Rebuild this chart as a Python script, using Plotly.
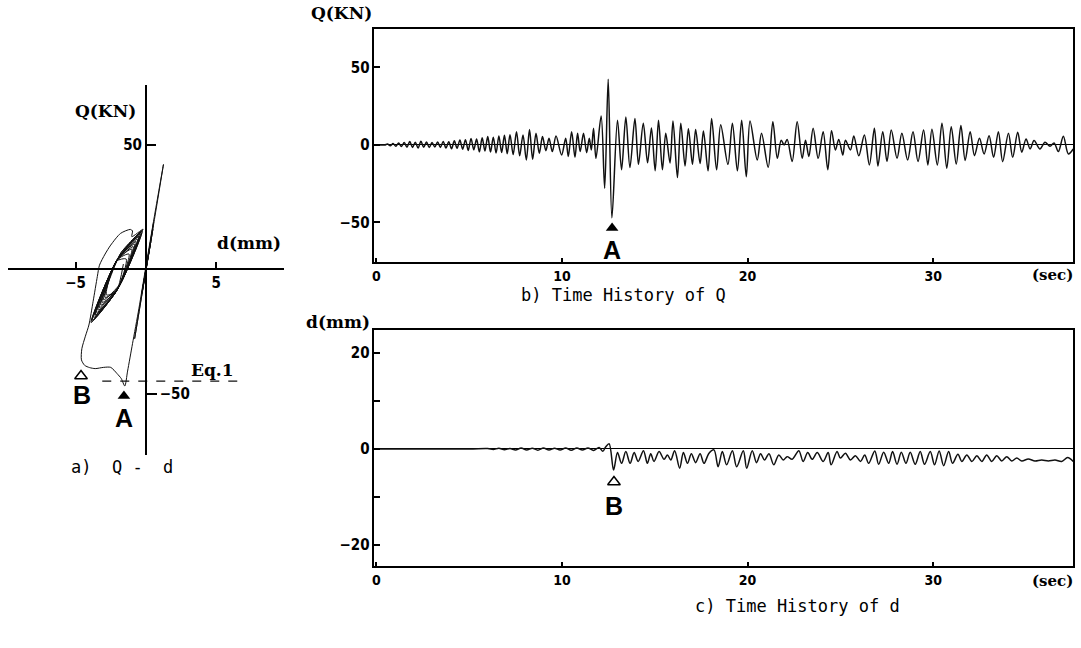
import plotly.graph_objects as go

# ---------------- Panel a : Q - d hysteresis (d [mm], Q [kN]) ----------------
loop_d = [0.0, 0.25, -0.2, 0.35, -0.3, 0.5, -0.25, 0.55, -0.8, 1.25, 0.6, 0.0, -0.5, -0.95, -1.3, -1.5,
          -1.75, -2.05, -2.5, -3.0, -3.6, -4.0, -4.35, -4.58, -4.55, -4.3, -4.05, -3.75, -3.45, -3.3,
          -2.9, -2.5, -1.8, -1.1, -0.95, -1.0,
          -0.2, -2.05, -3.9, -2.05,
          -0.4, -2.0, -3.6, -2.0,
          -0.3, -1.8, -3.3, -1.8,
          -0.6, -2.15, -3.7, -2.15,
          -0.5, -1.75, -3.0, -1.75,
          -0.9, -2.15, -3.4, -2.15,
          -0.4, -2.1, -3.8, -2.1,
          -1.0, -2.05, -3.1, -2.05,
          -0.7, -2.1, -3.5, -2.1,
          -1.2, -2.05, -2.9, -2.05,
          -0.5, -2.05, -3.6, -2.05,
          -0.25, -2.05, -3.85, -2.05,
          -0.8, -2.0, -3.2, -2.0,
          -1.4, -2.1, -2.8, -2.1, -1.6]
loop_q = [0.0, 8.0, -7.0, 11.0, -10.0, 16.0, -9.0, 18.7, -28.0, 42.0, 21.0, 1.0, -16.0, -30.0, -41.0, -47.0,
          -44.0, -42.0, -39.5, -39.5, -40.0, -39.6, -38.7, -36.5, -32.0, -27.0, -22.5, -13.0, -3.0, 1.5,
          6.0, 9.6, 14.3, 15.9, 15.3, 13.0,
          16.0, 3.6, -21.5, -8.4,
          14.0, 4.1, -18.5, -7.9,
          15.0, 6.2, -15.5, -5.8,
          12.0, 2.6, -19.5, -9.4,
          13.0, 6.7, -12.4, -5.3,
          9.0, 2.6, -16.5, -9.4,
          14.5, 3.1, -20.5, -8.9,
          8.0, 3.6, -13.4, -8.4,
          11.0, 3.1, -17.5, -8.9,
          6.0, 3.6, -11.4, -8.4,
          13.0, 3.6, -18.5, -8.4,
          15.5, 3.6, -21.0, -8.4,
          10.0, 4.1, -14.5, -7.9,
          4.0, 3.1, -10.4, -8.9, 2.0]
eq1_d = [-3.1, 6.8]
eq1_q = [-45.0, -45.0]
a_tick_d = [-5, 5]
a_tick_d_text = ["−5", "5"]

# ---------------- Panel b : time history of Q ----------------
q_time = [0.0, 0.45, 0.6, 0.75, 0.9, 1.05, 1.2, 1.35, 1.5, 1.65, 1.8, 1.95, 2.1, 2.25, 2.4, 2.55, 2.7, 2.85,
          3.0, 3.15, 3.3, 3.45, 3.6, 3.75, 3.9, 4.05, 4.2, 4.35, 4.5, 4.65, 4.8, 4.95, 5.1, 5.25, 5.4, 5.55,
          5.7, 5.85, 6.0, 6.15, 6.3, 6.45, 6.6, 6.75, 6.9, 7.05, 7.2, 7.37,
          7.55, 7.72, 7.9, 8.08, 8.25, 8.42, 8.6, 8.78, 8.95, 9.13, 9.3, 9.48, 9.68, 9.98, 10.2, 10.34,
          10.52, 10.7, 10.84, 10.98, 11.16, 11.33, 11.47, 11.58, 11.7, 11.83, 12.11, 12.3, 12.49, 12.69,
          12.99, 13.21, 13.44, 13.66, 13.93, 14.12, 14.38, 14.61, 14.82, 15.02, 15.2, 15.41, 15.59, 15.82,
          15.98, 16.22, 16.4, 16.63, 16.81, 17.03, 17.2, 17.44, 17.62, 17.87, 18.06, 18.33, 18.55, 18.94,
          19.18, 19.45, 19.68, 19.93, 20.13, 20.52, 20.75, 21.11, 21.36, 21.6, 21.81, 21.97, 22.13, 22.4,
          22.67, 22.94, 23.12, 23.3, 23.53, 23.8, 24.07, 24.32, 24.52, 24.73, 24.91, 25.13, 25.27, 25.54,
          25.72, 25.99, 26.29, 26.56, 26.83, 27.02, 27.28, 27.51, 27.74, 28.05, 28.31, 28.62, 28.91, 29.18,
          29.48, 29.71, 29.93, 30.22, 30.47, 30.73, 30.97, 31.24, 31.49, 31.72, 31.99, 32.22, 32.49, 32.74,
          33.01, 33.25, 33.51, 33.74, 34.05, 34.28, 34.55, 34.77, 35.0, 35.22, 35.43, 35.75, 36.02, 36.29,
          36.51, 36.74, 37.01, 37.28, 37.54]
q_val = [0.0, 0.0, 0.6, -0.5, 0.9, -0.8, 1.2, -1.0, 1.6, -1.4, 2.2, -1.6, 1.8, -2.0, 2.4, -1.5, 1.9, -1.7,
         1.6, -1.3, 1.9, -1.6, 2.3, -2.0, 2.1, -2.5, 2.7, -2.2, 3.2, -2.8, 3.4, -3.6, 4.2, -3.1, 3.8, -4.4,
         4.6, -3.9, 5.4, -4.6, 5.0, -5.2, 5.7, -4.9, 6.2, -5.6, 6.6, -6.2,
         8.6, -7.0, 6.5, -9.7, 10.0, -9.2, 7.5, -5.4, 5.4, -3.7, 4.3, -4.3, 5.8, -6.5, 4.3, -7.5,
         8.6, -8.0, 7.5, -4.3, 7.5, -5.0, 4.3, -3.2, 10.7, -8.6, 18.7, -28.0, 42.4, -47.0,
         16.0, -16.0, 18.0, -14.6, 17.0, -12.5, 14.0, -11.5, 11.0, -16.7, 16.0, -16.0, 7.5, -11.6,
         15.5, -21.0, 14.0, -13.5, 10.5, -12.5, 10.0, -12.0, 9.0, -16.7, 17.0, -16.0, 13.0, -12.5,
         14.0, -16.7, 16.0, -20.5, 15.5, -9.7, 7.5, -14.4, 15.0, -8.6, 3.0, 0.0, 3.6, -10.7,
         15.0, -8.6, 3.0, -7.5, 10.7, -8.6, 8.6, -16.0, 9.2, -3.2, 3.6, -6.5, 3.0, -3.2,
         5.8, -7.0, 6.5, -12.9, 10.7, -13.5, 8.6, -10.7, 9.7, -8.6, 7.5, -9.7, 8.6, -10.7,
         9.7, -12.9, 10.1, -12.9, 14.0, -15.0, 11.8, -12.3, 12.5, -10.0, 8.6, -6.9, 4.3, -5.8,
         6.0, -8.0, 8.6, -10.8, 7.5, -8.0, 8.2, -4.7, 3.9, -2.6, 2.8, -2.6, 1.7, -0.9,
         1.3, -4.3, 5.6, -5.8, -2.6]
q_ticks = [-50, 0, 50]
q_tick_text = ["−50", "0", "50"]

# ---------------- Panel c : time history of d ----------------
d_time = [0.0, 5.0, 6.0, 6.3, 6.6, 6.9, 7.2, 7.5, 7.8, 8.1, 8.4, 8.7, 9.0, 9.3, 9.6, 9.9, 10.2, 10.5,
          10.8, 11.1, 11.4, 11.7, 12.0, 12.2, 12.35, 12.54, 12.78,
          12.99, 13.21, 13.44, 13.67, 13.89, 14.1, 14.39, 14.6, 14.78, 14.96, 15.23, 15.5, 15.68, 15.86,
          16.07, 16.34, 16.54, 16.76, 16.97, 17.2, 17.44, 17.65, 17.92, 18.19, 18.41, 18.64, 18.87, 19.18,
          19.41, 19.77, 19.95, 20.25, 20.48, 20.7, 20.91, 21.15, 21.41, 21.68, 21.92, 22.13, 22.4, 22.76,
          22.99, 23.24, 23.48, 23.75, 24.07, 24.34, 24.5, 24.82, 25.0, 25.27, 25.54, 25.81, 26.08, 26.31,
          26.52, 26.85, 27.06, 27.33, 27.6, 27.81, 28.05, 28.28, 28.53, 28.76, 29.03, 29.3, 29.53, 29.84,
          30.07, 30.32, 30.56, 30.83, 31.04, 31.33, 31.54, 31.81, 32.08, 32.35, 32.62, 32.88, 33.15, 33.42,
          33.69, 33.96, 34.23, 34.5, 34.77, 35.12, 35.48, 35.84, 36.2, 36.56, 36.92, 37.24, 37.54]
d_val = [0.0, 0.0, 0.1, -0.1, 0.15, -0.15, 0.1, -0.2, 0.2, -0.2, 0.15, -0.25, 0.2, -0.2, 0.15, -0.2, 0.2, -0.25,
         0.2, -0.2, 0.2, -0.3, 0.3, -0.5, 0.4, 1.1, -4.4,
         -0.76, -3.0, -0.55, -3.0, -0.76, -2.6, -0.35, -3.0, -1.0, -2.6, -0.55, -2.15, -1.25, -2.3,
         -0.35, -4.0, -0.76, -3.0, -1.0, -2.85, -1.0, -3.0, -0.9, -0.2, -3.7, -0.55, -3.3, -0.35,
         -3.7, -0.35, -4.0, -0.35, -2.85, -1.0, -2.3, -1.0, -3.3, -1.25, -2.3, -1.6, -2.15, -0.35,
         -2.6, -0.76, -2.15, -0.76, -2.6, -0.76, -3.3, -0.55, -1.9, -0.9, -2.3, -1.4, -2.6, -1.25,
         -3.0, -0.4, -3.2, -0.7, -3.0, -0.55, -3.2, -0.7, -3.0, -0.7, -3.2, -0.55, -3.2, -0.55,
         -3.3, -0.4, -3.5, -0.55, -3.0, -1.1, -2.6, -1.25, -2.6, -1.4, -2.6, -1.25, -2.6, -1.4,
         -2.5, -1.6, -2.5, -1.9, -2.5, -2.1, -2.5, -2.3, -2.5, -2.3, -2.6, -1.8, -2.6]
d_ticks = [-20, -10, 0, 10, 20]
d_tick_text = ["−20", "", "0", "", "20"]
time_ticks = [0, 10, 20, 30]

# markers (event A = max |Q|, event B = max |d|)
a_point_qd = (-1.56, -51.0)
b_point_qd = (-4.61, -43.0)
a_point_t = (12.7, -53.5)
b_point_t = (12.8, -6.9)

# ---------------- styling ----------------
TICK_FONT = dict(family="Liberation Sans Narrow, DejaVu Sans Condensed, Arial Narrow, sans-serif",
                 size=15, color="black", weight="bold")
XTICK_FONT = dict(family="Liberation Sans Narrow, DejaVu Sans Condensed, Arial Narrow, sans-serif",
                  size=14, color="black", weight="bold")
LAB_FONT = dict(family="DejaVu Serif, Liberation Serif, serif", size=17, color="black", weight="bold")
SEC_FONT = dict(family="DejaVu Serif, Liberation Serif, serif", size=15, color="black", weight="bold")
CAP_FONT = dict(family="DejaVu Sans Mono, Liberation Mono, monospace", size=17, color="black")
LET_FONT = dict(family="Liberation Sans, Arial, sans-serif", size=25, color="black", weight="bold")
LINE = "#111111"

fig = go.Figure()

# panel a
fig.add_trace(go.Scatter(x=loop_d, y=loop_q, xaxis="x", yaxis="y", mode="lines",
                         line=dict(color=LINE, width=1, shape="spline", smoothing=0.7), hoverinfo="skip"))
fig.add_trace(go.Scatter(x=eq1_d, y=eq1_q, xaxis="x", yaxis="y4", mode="lines",
                         line=dict(color=LINE, width=1.2, dash="dash"), hoverinfo="skip"))
fig.add_trace(go.Scatter(x=[a_point_qd[0]], y=[a_point_qd[1]], xaxis="x", yaxis="y", mode="markers",
                         marker=dict(symbol="triangle-up", size=11, color="black"), hoverinfo="skip"))
fig.add_trace(go.Scatter(x=[b_point_qd[0]], y=[b_point_qd[1]], xaxis="x", yaxis="y", mode="markers",
                         marker=dict(symbol="triangle-up-open", size=11, color="black",
                                     line=dict(width=1.5)), hoverinfo="skip"))

# panel b
fig.add_trace(go.Scatter(x=q_time, y=q_val, xaxis="x2", yaxis="y2", mode="lines",
                         line=dict(color=LINE, width=1.5, shape="spline", smoothing=0.9), hoverinfo="skip"))
fig.add_trace(go.Scatter(x=[a_point_t[0]], y=[a_point_t[1]], xaxis="x2", yaxis="y2", mode="markers",
                         marker=dict(symbol="triangle-up", size=11, color="black"), hoverinfo="skip"))

# panel c
fig.add_trace(go.Scatter(x=d_time, y=d_val, xaxis="x3", yaxis="y3", mode="lines",
                         line=dict(color=LINE, width=1.5, shape="spline", smoothing=0.9), hoverinfo="skip"))
fig.add_trace(go.Scatter(x=[b_point_t[0]], y=[b_point_t[1]], xaxis="x3", yaxis="y3", mode="markers",
                         marker=dict(symbol="triangle-up-open", size=11, color="black",
                                     line=dict(width=1.5)), hoverinfo="skip"))

W, H = 1081, 648
def px_x(p):
    return p / W
def px_y(p):
    return 1 - p / H

common_box = dict(showline=True, linecolor="black", linewidth=1.5, mirror=True, showgrid=False,
                  tickcolor="black", tickwidth=1.5)

fig.update_layout(
    width=W, height=H, margin=dict(l=0, r=0, t=0, b=0),
    paper_bgcolor="white", plot_bgcolor="white", showlegend=False,
    xaxis=dict(domain=[px_x(6), px_x(283)], range=[-9.8, 9.85], anchor="free", position=px_y(269),
               showline=True, linecolor="black", linewidth=1.5, showgrid=False, zeroline=False,
               ticks="inside", ticklen=6, tickwidth=1.5, tickcolor="black",
               tickvals=a_tick_d, ticktext=a_tick_d_text, tickfont=TICK_FONT),
    yaxis=dict(domain=[px_y(455), px_y(85)], range=[-74.7, 73.9], anchor="free", position=px_x(144),
               side="left", showline=True, linecolor="black", linewidth=1.5, showgrid=False, zeroline=False,
               ticks="inside", ticklen=10, tickwidth=1.5, tickcolor="black",
               tickvals=[50], ticktext=["50"], tickfont=TICK_FONT),
    yaxis4=dict(overlaying="y", range=[-74.7, 73.9], anchor="free", position=px_x(144), side="right",
                showline=False, showgrid=False, zeroline=False, ticks="outside", ticklen=10, tickwidth=1.5,
                tickcolor="black", tickvals=[-50], ticktext=["−50"], tickfont=TICK_FONT),
    xaxis2=dict(domain=[px_x(373), px_x(1073)], range=[-0.11, 37.53], anchor="y2",
                ticks="inside", ticklen=4, tickvals=time_ticks, zeroline=False, tickfont=XTICK_FONT,
                **common_box),
    yaxis2=dict(domain=[px_y(262), px_y(29)], range=[-75.5, 74.8], anchor="x2",
                ticks="inside", ticklen=6, tickvals=q_ticks, ticktext=q_tick_text, tickfont=TICK_FONT,
                zeroline=True, zerolinecolor="black", zerolinewidth=1.3, **common_box),
    xaxis3=dict(domain=[px_x(373), px_x(1073)], range=[-0.11, 37.53], anchor="y3",
                ticks="inside", ticklen=4, tickvals=time_ticks, zeroline=False, tickfont=XTICK_FONT,
                **common_box),
    yaxis3=dict(domain=[px_y(566), px_y(330)], range=[-24.4, 24.8], anchor="x3",
                ticks="inside", ticklen=6, tickvals=d_ticks, ticktext=d_tick_text, tickfont=TICK_FONT,
                zeroline=True, zerolinecolor="black", zerolinewidth=1.3, **common_box),
)

ann = []
def paper_text(text, x, y, font, xanchor="center"):
    ann.append(dict(text=text, x=px_x(x), y=px_y(y), xref="paper", yref="paper", showarrow=False,
                    font=font, xanchor=xanchor, yanchor="middle"))

paper_text("Q(KN)", 104, 111, LAB_FONT)
paper_text("d(mm)", 247, 243, LAB_FONT)
paper_text("a)  Q -  d", 67, 467, CAP_FONT, xanchor="left")
paper_text("Q(KN)", 340, 13, LAB_FONT)
paper_text("(sec)", 1052, 275, SEC_FONT)
paper_text("b) Time History of Q", 518, 295, CAP_FONT, xanchor="left")
paper_text("d(mm)", 337, 322, LAB_FONT)
paper_text("(sec)", 1052, 581, SEC_FONT)
paper_text("c) Time History of d", 692, 606, CAP_FONT, xanchor="left")

# data-anchored labels
ann.append(dict(text="Eq.1", x=4.7, y=-40.5, xref="x", yref="y", showarrow=False, font=LAB_FONT))
ann.append(dict(text="A", x=a_point_qd[0], y=-60.0, xref="x", yref="y", showarrow=False, font=LET_FONT))
ann.append(dict(text="B", x=b_point_qd[0] + 0.1, y=-50.8, xref="x", yref="y", showarrow=False, font=LET_FONT))
ann.append(dict(text="A", x=a_point_t[0], y=-67.5, xref="x2", yref="y2", showarrow=False, font=LET_FONT))
ann.append(dict(text="B", x=b_point_t[0], y=-11.8, xref="x3", yref="y3", showarrow=False, font=LET_FONT))

fig.update_layout(annotations=ann)
fig.write_html("out.html")
